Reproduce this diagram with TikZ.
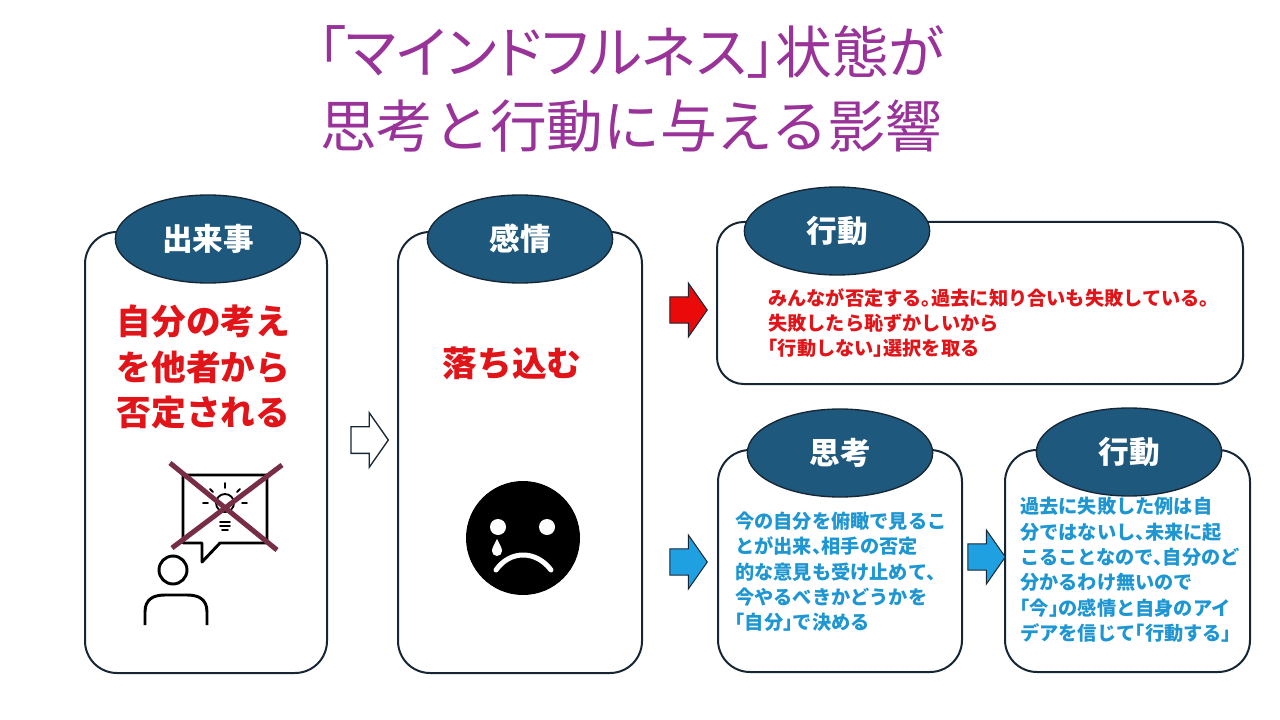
\documentclass[tikz,border=0pt]{standalone}
\usepackage{fontspec}
\setmainfont{Noto Sans CJK JP}
\newfontfamily\titlefont[RawFeature=+palt]{Noto Sans CJK JP}
\newfontfamily\bodyfont[RawFeature=+halt]{Noto Sans CJK JP}
\usetikzlibrary{shapes.geometric}
\usetikzlibrary{shapes.arrows}
\usetikzlibrary{positioning}
\definecolor{titlepurple}{RGB}{153,51,153}
\definecolor{hdrblue}{RGB}{30,88,124}
\definecolor{edgedark}{RGB}{22,38,52}
\definecolor{txtred}{RGB}{225,20,25}
\definecolor{txtblue}{RGB}{30,150,210}
\definecolor{arrblue}{RGB}{30,160,225}
\definecolor{arrred}{RGB}{235,10,10}
\definecolor{crossred}{RGB}{120,45,70}
\tikzset{
    box/.style = {rectangle, rounded corners=24pt, draw=edgedark, line width=1.5pt, fill=white, inner sep=0pt},
    hdr/.style = {ellipse, draw=edgedark, line width=1pt, fill=hdrblue, minimum width=139pt, minimum height=66pt, text=white, font=\fontsize{23}{28}\selectfont\bfseries},
    bigred/.style = {text=txtred, align=left, font=\fontsize{26}{34}\selectfont\bfseries},
    smallred/.style = {text=txtred, align=left, anchor=west, inner sep=0pt, font=\bodyfont\fontsize{14.4}{19}\selectfont\bfseries},
    smallblue/.style = {smallred, text=txtblue},
    blockarrow/.style = {single arrow, draw=edgedark, line width=0.75pt, inner xsep=0pt, inner ysep=9.5pt, minimum height=28pt, single arrow head extend=10.5pt, single arrow tip angle=110},
    arrowr/.style = {blockarrow, fill=arrred},
    arrowb/.style = {blockarrow, fill=arrblue},
    arroww/.style = {blockarrow, fill=white, line width=1pt}, % hollow
    icon/.style = {draw=black, line width=2.2pt, line join=round},
    bulb/.style = {draw=black, line width=1.4pt, line cap=round}
}
\begin{document}
\begin{tikzpicture}[x=0.75pt, y=-0.75pt]
\useasboundingbox (0,0) rectangle (1280,720);

% title
\node[font=\fontsize{42.5}{55}\selectfont, text=titlepurple, align=center] (title) at (631,89) {{\titlefont 「マインドフルネス」状態が}\\思考と行動に与える影響};

% boxes
\node[box, minimum width=181.5pt, minimum height=330.75pt] (event) at (206,452.5) {};
\node[box, minimum width=183pt, minimum height=330.75pt] (feel) at (520,452.5) {};
\node[box, rounded corners=20pt, minimum width=394.5pt, minimum height=121.5pt] (actA) at (980,303) {};
\node[box, minimum width=183pt, minimum height=166.5pt] (think) at (840,561) {};
\node[box, minimum width=183.75pt, minimum height=166.5pt] (actB) at (1127.5,561) {};

% headers
\node[hdr] (eventh) at (208,239) {出来事};
\node[hdr] (feelh) at (520,239) {感情};
\node[hdr] (actAh) at (837,231) {行動};
\node[hdr] (thinkh) at (840,453) {思考};
\node[hdr] (actBh) at (1129,452) {行動};

% arrows
\node[arroww] (arr1) at (365,440) {};
\node[arrowr] (arr2) at (684,310) {};
\node[arrowb] (arr3) at (684,562) {};
\node[arrowb] (arr4) at (982,557) {};

% texts
\node[bigred, anchor=west] (eventt) at (112,367) {自分の考え\\を他者から\\否定される};
\node[bigred] (feelt) at (512,363) {落ち込む};
\node[smallred] (actAt) at (768,323) {みんなが否定する。過去に知り合いも失敗している。\\失敗したら恥ずかしいから\\「行動しない」選択を取る};
\node[smallblue] (thinkt) at (735,572) {今の自分を俯瞰で見るこ\\とが出来、相手の否定\\的な意見も受け止めて、\\今やるべきかどうかを\\「自分」で決める};
\node[smallblue] (actBt) at (1020,570) {過去に失敗した例は自\\分ではないし、未来に起\\こることなので、自分のど\\分かるわけ無いので\\「今」の感情と自身のアイ\\デアを信じて「行動する」};

% idea icon
\draw[icon, fill=white] (183,475) -- (267,475) -- (267,543) -- (220,543) -- (202,562) -- (202,543) -- (183,543) -- cycle;
\draw[bulb] (225,503) circle (9);
\draw[bulb] (220,522) -- (230,522) (220,526) -- (230,526) (222,530) -- (228,530);
\draw[bulb] (225,483) -- (225,488) (203,503) -- (208,503) (242,503) -- (247,503)
    (210,489) -- (213,492) (240,489) -- (237,492);
\draw[crossred, line width=3.75pt] (170,463) -- (277,550) (282,465) -- (172,548);
\draw[icon] (173,570) circle (14);
\draw[icon] (145,625) -- (145,612) .. controls (145,598) and (155,595) .. (165,595) -- (187,595)
    .. controls (197,595) and (207,598) .. (207,612) -- (207,625);

% sad face
\fill[black] (523,538) circle (57);
\fill[white] (498,527) circle (8) (547,527) circle (8);
\fill[white] (497,539) .. controls (494,545) and (492,548) .. (492,551) arc[start angle=180, end angle=0, radius=5] .. controls (502,548) and (500,545) .. (497,539);
\draw[white, line width=3.75pt, line cap=round] (496,570) .. controls (510,550) and (536,550) .. (551,570);

\end{tikzpicture}
\end{document}
